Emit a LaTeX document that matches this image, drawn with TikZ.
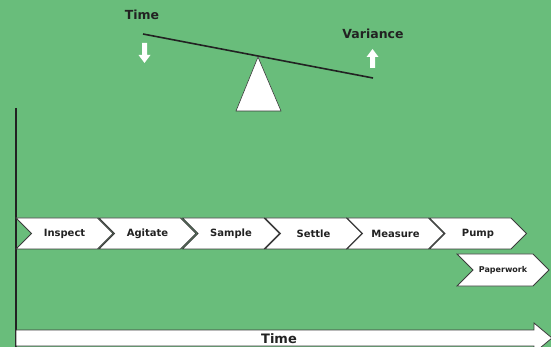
\documentclass[tikz,border=0pt]{standalone}
\usepackage{fontspec}
\setmainfont{DejaVu Sans}
\usetikzlibrary{shapes.symbols}
\definecolor{bg}{RGB}{105,189,123}
\definecolor{ink}{RGB}{34,34,34}
\definecolor{rim}{RGB}{60,60,60}
\tikzset{
  stepbox/.style={shape=signal, signal from=west, signal to=east, signal pointer angle=90,
    draw=rim, line width=0.8pt, fill=white, minimum width=97, minimum height=31,
    inner sep=0pt, font=\bfseries\fontsize{10}{12}\selectfont, text=ink},
  label/.style={font=\bfseries\fontsize{12.5}{14}\selectfont, text=ink, inner sep=0pt},
  hint/.style={fill=white, draw=none},
}
\begin{document}
\begin{tikzpicture}[x=1pt,y=-1pt]
  \fill[bg] (0,0) rectangle (551,347);
  \useasboundingbox (0,0) rectangle (551,347);
  \clip (0,0) rectangle (551,347);

  % seesaw: beam over a fulcrum
  \coordinate (beamL) at (143,34);
  \coordinate (beamR) at (373,78);
  \draw[ink, line width=1.6pt] (beamL) -- (beamR);
  \draw[rim, line width=0.6pt, fill=white] (258,57) -- (281,111) -- (236,111) -- cycle;

  \node[label] (tTime) at (142,15) {Time};
  \node[label] (tVar) at (373,34) {Variance};

  % down arrow under Time, up arrow under Variance
  \fill[hint] (142,43) -- (147,43) -- (147,55) -- (150.5,55) -- (144.5,63) -- (138.5,55) -- (142,55) -- cycle;
  \fill[hint] (370,68) -- (375,68) -- (375,57) -- (378.5,57) -- (372.5,49) -- (366.5,57) -- (370,57) -- cycle;

  % vertical axis
  \draw[ink, line width=2pt] (16,108) -- (16,350);

  % process steps
  \node[stepbox] (s1) at (64.5,233.5) {Inspect};
  \node[stepbox] (s2) at (147.5,233.5) {Agitate};
  \node[stepbox] (s3) at (231,233.5) {Sample};
  \node[stepbox] (s4) at (313.5,233.5) {Settle};
  \node[stepbox] (s5) at (395.5,233.5) {Measure};
  \node[stepbox] (s6) at (478,233.5) {Pump};
  \node[stepbox, minimum width=92, minimum height=32, font=\bfseries\fontsize{8}{10}\selectfont] (s7) at (503,270) {Paperwork};

  % time axis arrow
  \draw[rim, line width=0.8pt, fill=white] (16,330) -- (534,330) -- (534,323) -- (552,338) -- (534,353) -- (534,346) -- (16,346) -- cycle;
  \node[font=\bfseries\fontsize{13}{15}\selectfont, text=ink, inner sep=0pt] (axis) at (279,338.5) {Time};
\end{tikzpicture}
\end{document}
